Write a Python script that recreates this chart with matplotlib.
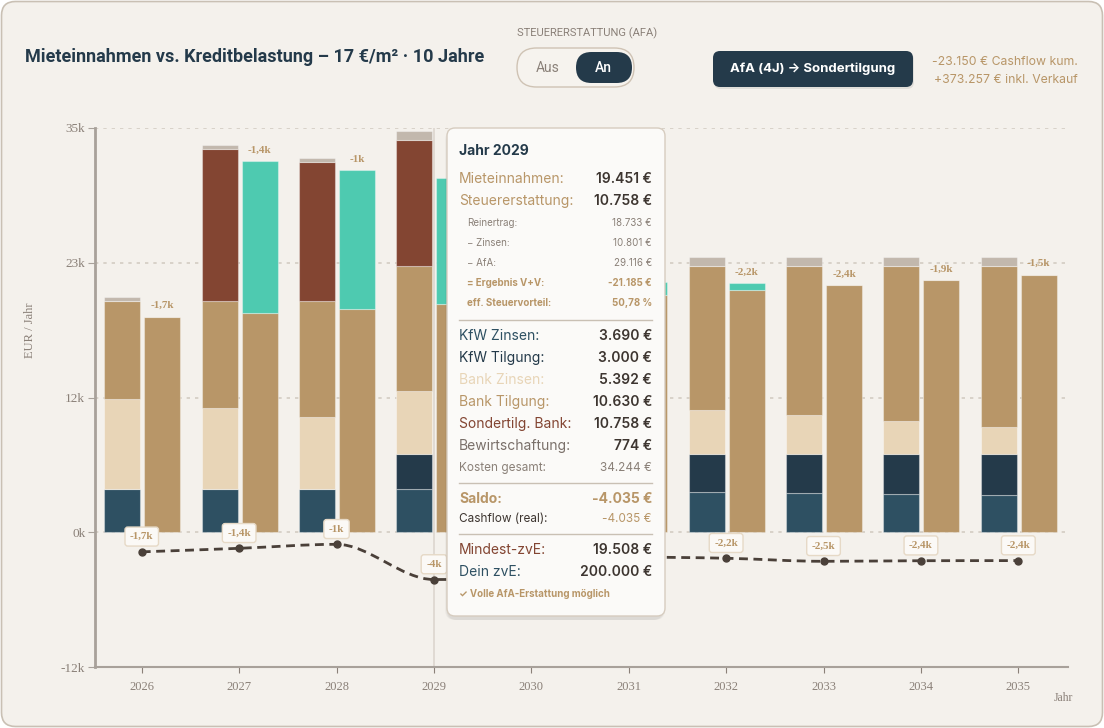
import numpy as np
import matplotlib
matplotlib.use("Agg")
import matplotlib.pyplot as plt
from matplotlib.patches import FancyBboxPatch, PathPatch
from matplotlib.path import Path

# ---- data (EUR per year) ----
years = [2026, 2027, 2028, 2029, 2030, 2031, 2032, 2033, 2034, 2035]
kfw_zinsen = [3690, 3690, 3690, 3690, 3600, 3505, 3412, 3327, 3241, 3156]
kfw_tilgung = [0, 0, 0, 3000, 3090, 3185, 3278, 3363, 3449, 3534]
bank_zinsen = [7700, 6913, 6145, 5392, 4700, 4200, 3717, 3293, 2841, 2329]
bank_tilgung = [8322, 9109, 9877, 10630, 11322, 11822, 12305, 12729, 13181, 13693]
sondertilg = [0, 12966, 11857, 10758, 9700, 0, 0, 0, 0, 0]
bewirtschaftung = [340, 340, 340, 774, 760, 755, 750, 750, 750, 750]
mieteinnahmen = [18380, 18681, 19022, 19451, 19840, 20230, 20643, 21069, 21521, 21973]
steuererstattung = [0, 12966, 11857, 10758, 9700, 1150, 600, 0, 0, 0]
cashflow_real = [-1672, -1371, -1030, -4035, -3652, -2122, -2219, -2480, -2430, -2420]

hover_year = 2029
# labels that sit under the tooltip in the reference
bar_label_hidden = [2029, 2030, 2031]
line_label_hidden = [2030, 2031]

y_ticks = [-11500, 0, 11500, 23000, 34500]
y_ticklabels = ["-12k", "0k", "12k", "23k", "35k"]

tooltip_head = [("Mieteinnahmen:", "19.451 €", "#b89668"),
                ("Steuererstattung:", "10.758 €", "#b89668")]
tooltip_small = [("Reinertrag:", "18.733 €", "#8a8078", "normal"),
                 ("− Zinsen:", "10.801 €", "#8a8078", "normal"),
                 ("− AfA:", "29.116 €", "#8a8078", "normal"),
                 ("= Ergebnis V+V:", "-21.185 €", "#b89668", "bold"),
                 ("eff. Steuervorteil:", "50,78 %", "#b89668", "bold")]
tooltip_costs = [("KfW Zinsen:", "3.690 €", "#2e5062"),
                 ("KfW Tilgung:", "3.000 €", "#243a4a"),
                 ("Bank Zinsen:", "5.392 €", "#e8d5b7"),
                 ("Bank Tilgung:", "10.630 €", "#b89668"),
                 ("Sondertilg. Bank:", "10.758 €", "#834532"),
                 ("Bewirtschaftung:", "774 €", "#7a706a")]

# ---- colours ----
C_BG = "#f4f1ec"
C_KFWZ = "#2e5062"
C_KFWT = "#243a4a"
C_BZ = "#e8d5b7"
C_BT = "#b89668"
C_SOND = "#834532"
C_BEW = "#c2b8ad"
C_TEAL = "#4ecab0"
C_GRAY = "#8a8078"
C_DARK = "#3d3530"

SERIF = "Liberation Serif"
SANS = ["Inter", "DejaVu Sans"]


def kfmt(v):
    r = round(v / 1000.0, 1)
    if abs(r - round(r)) < 1e-9:
        s = "%d" % round(r)
    else:
        s = ("%.1f" % r).replace(".", ",")
    return s + "k"


def monotone_path(xs, ys):
    # cubic bezier path like d3.curveMonotoneX
    xs = np.asarray(xs, float)
    ys = np.asarray(ys, float)
    n = len(xs)
    h = np.diff(xs)
    s = np.diff(ys) / h
    t = np.zeros(n)
    for i in range(1, n - 1):
        p = (s[i - 1] * h[i] + s[i] * h[i - 1]) / (h[i - 1] + h[i])
        t[i] = (np.sign(s[i - 1]) + np.sign(s[i])) * min(abs(s[i - 1]), abs(s[i]), 0.5 * abs(p))
    t[0] = (3 * s[0] - t[1]) / 2
    t[-1] = (3 * s[-1] - t[-2]) / 2
    verts = [(xs[0], ys[0])]
    codes = [Path.MOVETO]
    for i in range(n - 1):
        dx = h[i] / 3
        verts += [(xs[i] + dx, ys[i] + dx * t[i]),
                  (xs[i + 1] - dx, ys[i + 1] - dx * t[i + 1]),
                  (xs[i + 1], ys[i + 1])]
        codes += [Path.CURVE4] * 3
    return Path(verts, codes)


fig = plt.figure(figsize=(11.04, 7.28), dpi=100)
fig.patch.set_facecolor("white")

# card background
bg = fig.add_axes([0, 0, 1, 1], zorder=0)
bg.set_xlim(0, 1104)
bg.set_ylim(728, 0)
bg.axis("off")
bg.add_patch(FancyBboxPatch((1.5, 1.5), 1101, 725, boxstyle="round,pad=0,rounding_size=14",
                            fc=C_BG, ec="#c9c0b4", lw=1.2))

# ---- main chart ----
ax = fig.add_axes([95 / 1104, 1 - 667 / 728, 973 / 1104, 539 / 728], zorder=2)
ax.patch.set_alpha(0)
x = np.arange(len(years))
w = 0.37
xc = x - 0.2
xi = x + 0.21

ax.set_xlim(-0.48, 9.51)
ax.set_ylim(-11500, 34500)
for yv in y_ticks:
    ax.axhline(yv, color="#d3ccc3", lw=1.2, ls=(0, (2, 3)), zorder=0)
ax.axvline(years.index(hover_year), color="#dcd6ce", lw=1.2, zorder=0.5)

edge = dict(edgecolor=(1, 1, 1, 0.35), linewidth=0.8, zorder=2)
bottom = np.zeros(len(years))
for vals, col in [(kfw_zinsen, C_KFWZ), (kfw_tilgung, C_KFWT), (bank_zinsen, C_BZ),
                  (bank_tilgung, C_BT), (sondertilg, C_SOND), (bewirtschaftung, C_BEW)]:
    ax.bar(xc, vals, w, bottom=bottom, color=col, **edge)
    bottom = bottom + np.array(vals)

ax.bar(xi, mieteinnahmen, w, color=C_BT, **edge)
ax.bar(xi, steuererstattung, w, bottom=mieteinnahmen, color=C_TEAL, **edge)

income = np.array(mieteinnahmen) + np.array(steuererstattung)
saldo = income - bottom
for i in range(len(years)):
    if years[i] in bar_label_hidden:
        continue
    ax.annotate(kfmt(saldo[i]), (xi[i], income[i]), xytext=(0, 8), textcoords="offset points",
                ha="center", va="center", fontsize=8, fontweight="bold", family=SERIF,
                color=C_BT, zorder=4)

# cashflow line
ax.add_patch(PathPatch(monotone_path(x, cashflow_real), fill=False, ec="#4a4039", lw=2,
                       ls=(0, (3.2, 2)), zorder=5))
ax.plot(x, cashflow_real, "o", ms=5, color="#4a4039", zorder=6)
for i in range(len(years)):
    if years[i] in line_label_hidden:
        continue
    ax.annotate(kfmt(cashflow_real[i]), (x[i], cashflow_real[i]), xytext=(0, 11),
                textcoords="offset points", ha="center", va="center", fontsize=8,
                fontweight="bold", family=SERIF, color=C_BT, zorder=7,
                bbox=dict(boxstyle="round,pad=0.45,rounding_size=0.25", fc="#fbf9f6",
                          ec="#e6d9c6", lw=1))

ax.set_xticks(x)
ax.set_xticklabels([str(y) for y in years], family=SERIF, fontsize=9, color=C_GRAY)
ax.set_yticks(y_ticks)
ax.set_yticklabels(y_ticklabels, family=SERIF, fontsize=9.5, color=C_GRAY)
ax.tick_params(axis="x", length=4, color="#8a8078", pad=6)
ax.tick_params(axis="y", length=5, color="#a8a19a", pad=2)
for side in ["top", "right"]:
    ax.spines[side].set_visible(False)
ax.spines["left"].set_color("#a8a19a")
ax.spines["left"].set_linewidth(2)
ax.spines["bottom"].set_color("#a8a19a")
ax.spines["bottom"].set_linewidth(1.5)

# ---- overlay (pixel coords) ----
ov = fig.add_axes([0, 0, 1, 1], zorder=10)
ov.set_xlim(0, 1104)
ov.set_ylim(728, 0)
ov.axis("off")
ov.patch.set_alpha(0)

ov.text(30, 330, "EUR / Jahr", rotation=90, ha="center", va="center", family=SERIF,
        fontsize=9, color=C_GRAY)
ov.text(1063, 698, "Jahr", ha="center", va="center", family=SERIF, fontsize=8.5, color=C_GRAY)

ov.text(25, 57, "Mieteinnahmen vs. Kreditbelastung – 17 €/m² · 10 Jahre", ha="left",
        va="center", family=["Roboto", "DejaVu Sans"], fontweight="bold", fontsize=13,
        color=C_KFWT)
ov.text(517, 33, "STEUERERSTATTUNG (AFA)", ha="left", va="center",
        family=["Roboto", "DejaVu Sans"], fontsize=8, color=C_GRAY)
ov.add_patch(FancyBboxPatch((517, 48), 117, 39, boxstyle="round,pad=0,rounding_size=19.5",
                            fc="#f6f3ee", ec="#cfc3b4", lw=1))
ov.add_patch(FancyBboxPatch((576, 52), 56, 31, boxstyle="round,pad=0,rounding_size=15.5",
                            fc=C_KFWT, ec="none"))
ov.text(548, 68, "Aus", ha="center", va="center", family=["Roboto", "DejaVu Sans"],
        fontsize=10, color=C_GRAY)
ov.text(603, 68, "An", ha="center", va="center", family=["Roboto", "DejaVu Sans"],
        fontsize=10, color="white", fontweight="medium")

ov.add_patch(FancyBboxPatch((714, 53), 200, 36, boxstyle="round,pad=0,rounding_size=7",
                            fc="#000000", ec="none", alpha=0.08))
ov.add_patch(FancyBboxPatch((713, 51), 200, 36, boxstyle="round,pad=0,rounding_size=7",
                            fc=C_KFWT, ec="none"))
ov.text(813, 69, "AfA (4J) → Sondertilgung", ha="center", va="center", family=SANS,
        fontsize=9.5, fontweight="bold", color="white")
ov.text(1078, 62, "-23.150 € Cashflow kum.", ha="right", va="center", family=SANS,
        fontsize=8.8, color=C_BT)
ov.text(1078, 80, "+373.257 € inkl. Verkauf", ha="right", va="center", family=SANS,
        fontsize=8.8, color=C_BT)

# ---- tooltip ----
for k, a in enumerate([0.03, 0.03, 0.03]):
    ov.add_patch(FancyBboxPatch((447 - 2 + k, 130 + k * 2), 220 - 2 * k, 490 - k * 2,
                                boxstyle="round,pad=0,rounding_size=10", fc="black",
                                ec="none", alpha=a))
ov.add_patch(FancyBboxPatch((447, 128), 218, 488, boxstyle="round,pad=0,rounding_size=8",
                            fc="#fbfaf8", ec="#d6ccbf", lw=1))
L, R = 459, 652
ov.text(L, 151, "Jahr 2029", ha="left", va="center", family=SANS, fontsize=10,
        fontweight="bold", color=C_KFWT)
yy = 179
for lab, val, col in tooltip_head:
    ov.text(L, yy, lab, ha="left", va="center", family=SANS, fontsize=10, color=col)
    ov.text(R, yy, val, ha="right", va="center", family=SANS, fontsize=10,
            fontweight="semibold", color=C_DARK)
    yy += 22
yy = 223
for lab, val, col, wt in tooltip_small:
    ov.text(L + 8, yy, lab, ha="left", va="center", family=SANS, fontsize=7, color=col,
            fontweight=wt)
    ov.text(R, yy, val, ha="right", va="center", family=SANS, fontsize=7, color=col,
            fontweight=wt)
    yy += 20
ov.plot([L, R], [320, 320], color="#c9c0b4", lw=1)
yy = 336
for lab, val, col in tooltip_costs:
    ov.text(L, yy, lab, ha="left", va="center", family=SANS, fontsize=10, color=col)
    ov.text(R, yy, val, ha="right", va="center", family=SANS, fontsize=10,
            fontweight="semibold", color=C_DARK)
    yy += 22
ov.text(L, 468, "Kosten gesamt:", ha="left", va="center", family=SANS, fontsize=8.5,
        color=C_GRAY)
ov.text(R, 468, "34.244 €", ha="right", va="center", family=SANS, fontsize=8.5, color=C_GRAY)
ov.plot([L, R], [483, 483], color="#c9c0b4", lw=1)
ov.text(L, 499, "Saldo:", ha="left", va="center", family=SANS, fontsize=10,
        fontweight="bold", color=C_BT)
ov.text(R, 499, "-4.035 €", ha="right", va="center", family=SANS, fontsize=10,
        fontweight="bold", color=C_BT)
ov.text(L, 519, "Cashflow (real):", ha="left", va="center", family=SANS, fontsize=8.5,
        color=C_DARK)
ov.text(R, 519, "-4.035 €", ha="right", va="center", family=SANS, fontsize=8.5, color=C_BT)
ov.plot([L, R], [534, 534], color="#c9c0b4", lw=1)
ov.text(L, 550, "Mindest-zvE:", ha="left", va="center", family=SANS, fontsize=10,
        color=C_SOND)
ov.text(R, 550, "19.508 €", ha="right", va="center", family=SANS, fontsize=10,
        fontweight="semibold", color=C_DARK)
ov.text(L, 572, "Dein zvE:", ha="left", va="center", family=SANS, fontsize=10, color=C_KFWZ)
ov.text(R, 572, "200.000 €", ha="right", va="center", family=SANS, fontsize=10,
        fontweight="semibold", color=C_DARK)
ov.text(L, 594, "✓ Volle AfA-Erstattung möglich", ha="left", va="center", family=SANS,
        fontsize=7, fontweight="bold", color=C_BT)

fig.savefig("out.png", dpi=100, facecolor=fig.get_facecolor())
